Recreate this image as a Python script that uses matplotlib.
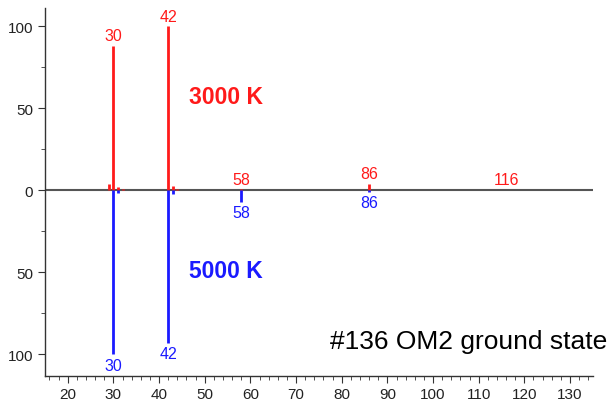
import matplotlib
matplotlib.use("Agg")
import matplotlib.pyplot as plt
from matplotlib.ticker import MultipleLocator, FuncFormatter

plt.rcParams['font.family'] = ['Liberation Sans', 'DejaVu Sans']

# 3000 K spectrum (upward)
mz_3000 = [29, 30, 31, 32, 42, 43, 44, 58, 86, 116]
int_3000 = [3.7, 88, 2.0, 0.8, 100, 2.8, 0.8, 0.5, 4.0, 0.4]
labels_3000 = [30, 42, 58, 86, 116]

# 5000 K spectrum (downward)
mz_5000 = [30, 31, 42, 43, 58, 86]
int_5000 = [100, 1.6, 93, 2.4, 7.0, 0.8]
labels_5000 = [30, 42, 58, 86]

red = '#ff1a1a'
blue = '#1a1aff'

fig = plt.figure(figsize=(6.15, 4.02), dpi=100)
ax = fig.add_axes([0.073, 0.063, 0.891, 0.914])

ax.axhline(0, color='#555555', lw=1.5, zorder=1)
ax.vlines(mz_3000, 0, int_3000, colors=red, lw=2.0, zorder=2)
ax.vlines(mz_5000, 0, [-v for v in int_5000], colors=blue, lw=2.0, zorder=2)

for m in labels_3000:
    v = int_3000[mz_3000.index(m)]
    ax.annotate(str(m), (m, v), xytext=(0, 2), textcoords='offset points',
                ha='center', va='bottom', color=red, fontsize=11.5)
for m in labels_5000:
    v = int_5000[mz_5000.index(m)]
    ax.annotate(str(m), (m, -v), xytext=(0, -2.5), textcoords='offset points',
                ha='center', va='top', color=blue, fontsize=11.5)

ax.text(0.263, 0.761, '3000 K', transform=ax.transAxes, color=red,
        fontsize=16.5, fontweight='bold', ha='left', va='center')
ax.text(0.263, 0.285, '5000 K', transform=ax.transAxes, color=blue,
        fontsize=16.5, fontweight='bold', ha='left', va='center')
ax.text(1.027, 0.095, '#136 OM2 ground state', transform=ax.transAxes,
        color='black', fontsize=19, ha='right', va='center')

ax.set_xlim(15, 135)
ax.set_ylim(-113, 111)
ax.xaxis.set_major_locator(MultipleLocator(10))
ax.xaxis.set_minor_locator(MultipleLocator(2))
ax.yaxis.set_major_locator(MultipleLocator(50))
ax.yaxis.set_minor_locator(MultipleLocator(25))
ax.yaxis.set_major_formatter(FuncFormatter(lambda v, p: f"{abs(v):g}"))
ax.set_xticks([20, 30, 40, 50, 60, 70, 80, 90, 100, 110, 120, 130])

for s in ['top', 'right']:
    ax.spines[s].set_visible(False)
for s in ['left', 'bottom']:
    ax.spines[s].set_color('#333333')
    ax.spines[s].set_linewidth(1.0)
ax.tick_params(which='major', direction='out', length=5, labelsize=11, colors='#333333', labelcolor='#222222')
ax.tick_params(which='minor', direction='out', length=3, colors='#333333')

fig.savefig('out.png', dpi=100)
